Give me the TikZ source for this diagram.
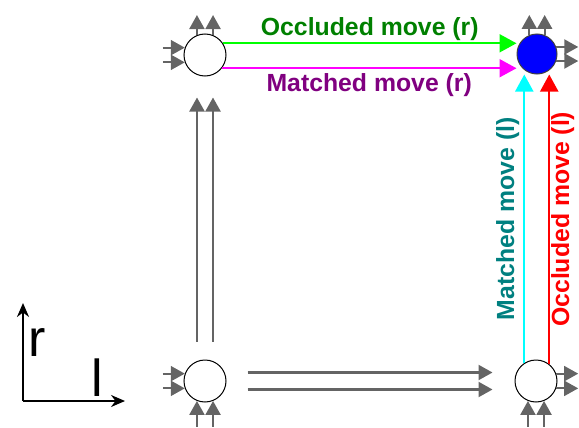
\documentclass[tikz,border=0pt]{standalone}
\usepackage{fontspec}
\setmainfont{Liberation Sans}
\usetikzlibrary{arrows.meta,positioning,calc}
\definecolor{stubgray}{RGB}{100,100,100}
\definecolor{occLine}{RGB}{0,255,0}
\definecolor{occText}{RGB}{0,128,0}
\definecolor{matLine}{RGB}{255,0,255}
\definecolor{matText}{RGB}{128,0,128}
\definecolor{matLineL}{RGB}{0,255,255}
\definecolor{matTextL}{RGB}{0,128,128}
\definecolor{occRed}{RGB}{255,0,0}
\tikzset{
    state/.style  = {circle, draw=black, line width=0.5pt, fill=white,
            minimum size=21pt, inner sep=0pt},
    goal/.style   = {state, fill=blue, draw=black!75, minimum size=20pt},
    stub/.style   = {-{Triangle[length=7pt,width=7.5pt]}, line width=1.1pt, draw=stubgray, fill=stubgray},
    move/.style   = {-{Triangle[length=8.5pt,width=9pt]}, line width=1pt},
    movelbl/.style = {font=\bfseries\fontsize{12.4}{14}\selectfont},
    axis/.style   = {-{Stealth[length=7pt,width=6pt]}, line width=1pt, draw=black},
    axislbl/.style = {font=\fontsize{26}{28}\selectfont, inner sep=0pt},
}
% short stubs round a state
\newcommand{\StubsLeftIn}[1]{%
    \foreach \a in {160,200} \draw[stub] ([xshift=-11pt]#1.\a) -- (#1.\a);
}
\newcommand{\StubsTopOut}[1]{%
    \foreach \a in {68,112} \draw[stub] (#1.\a) -- ([yshift=10pt]#1.\a);
}
\newcommand{\StubsRightOut}[1]{%
    \foreach \a in {-20,20} \draw[stub] (#1.\a) -- ([xshift=11pt]#1.\a);
}
\newcommand{\StubsBottomIn}[1]{%
    \foreach \a in {-68,-112} \draw[stub] ([yshift=-13pt]#1.\a) -- (#1.\a);
}

\begin{document}
\begin{tikzpicture}[x=0.5pt, y=-0.5pt]
    \useasboundingbox (0,0) rectangle (579,428);

    % states
    \node[state] (tl) at (205,55) {};
    \node[goal]  (tr) at (537,54) {};
    \node[state] (bl) at (205,381) {};
    \node[state] (br) at (536,381) {};

    \StubsLeftIn{tl}
    \StubsTopOut{tl}
    \StubsTopOut{tr}
    \StubsRightOut{tr}
    \StubsLeftIn{bl}
    \StubsBottomIn{bl}
    \StubsRightOut{br}
    \StubsBottomIn{br}

    % gray moves
    \foreach \s in {-4,4}
        \draw[stub, shorten <=9pt, shorten >=10.5pt]
            ([xshift=\s pt]bl.north) -- ([xshift=\s pt]tl.south);
    \foreach \s in {-4.25,4.25}
        \draw[stub, shorten <=10.5pt, shorten >=11pt]
            ([yshift=\s pt]bl.east) -- ([yshift=\s pt]br.west);

    % coloured moves
    \draw[move, draw=occLine] (tl.33) -- (tl.33 -| tr.west)
        node[midway, above, movelbl, text=occText, inner sep=1pt] {Occluded move (r)};
    \draw[move, draw=matLine] (tl.-38) -- (tl.-38 -| tr.west)
        node[midway, below, movelbl, text=matText, inner sep=2pt] {Matched move (r)};
    \draw[move, draw=matLineL] (br.123) -- (br.123 |- tr.south)
        node[midway, sloped, above, movelbl, text=matTextL, inner sep=2pt] {Matched move (l)};
    \draw[move, draw=occRed] (br.52) -- (br.52 |- tr.south)
        node[midway, sloped, below, movelbl, text=occRed, inner sep=0.5pt] {Occluded move (l)};

    % axes
    \coordinate (o) at (23,401);
    \coordinate (ytip) at (23,303);
    \coordinate (xtip) at (125,401);
    \draw[axis] (o) -- (ytip);
    \draw[axis] (o) -- (xtip);
    \node[axislbl] (rlbl) at (37,343) {r};
    \node[axislbl] (llbl) at (97,378) {l};
\end{tikzpicture}
\end{document}
